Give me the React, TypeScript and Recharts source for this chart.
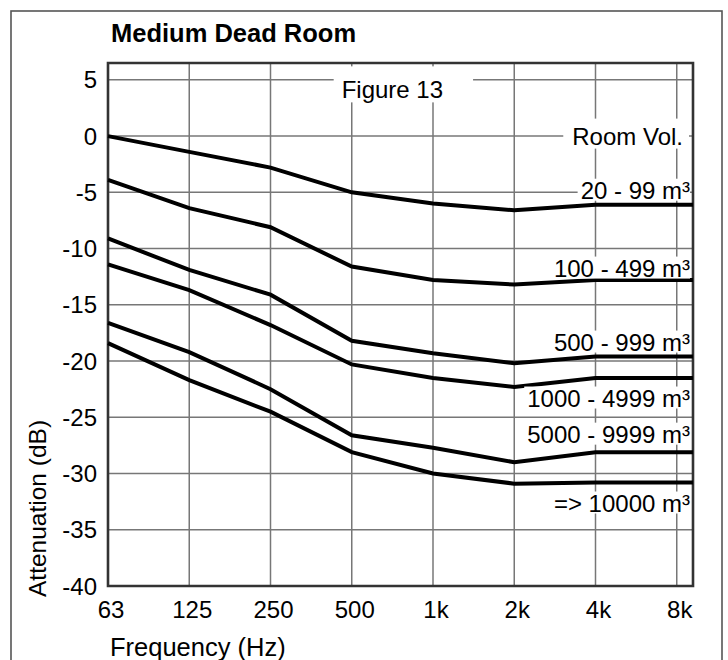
import React, { useLayoutEffect, useRef, useState } from 'react';
import { LineChart, Line, XAxis, YAxis, CartesianGrid, ReferenceDot, ReferenceArea, Label } from 'recharts';

// octave band centres along the bottom
const FREQ_LABELS = ['63', '125', '250', '500', '1k', '2k', '4k', '8k'];

// attenuation in dB per octave band, one array per room volume class
const VOL_20_99 = [0, -1.4, -2.8, -5.0, -6.0, -6.6, -6.1, -6.1];
const VOL_100_499 = [-3.9, -6.4, -8.1, -11.6, -12.8, -13.2, -12.8, -12.8];
const VOL_500_999 = [-9.1, -11.9, -14.1, -18.2, -19.3, -20.2, -19.6, -19.6];
const VOL_1000_4999 = [-11.4, -13.7, -16.8, -20.3, -21.5, -22.3, -21.5, -21.5];
const VOL_5000_9999 = [-16.6, -19.2, -22.5, -26.6, -27.7, -29.0, -28.1, -28.1];
const VOL_10000_UP = [-18.4, -21.7, -24.5, -28.1, -30.0, -30.9, -30.8, -30.8];

const SERIES = [VOL_20_99, VOL_100_499, VOL_500_999, VOL_1000_4999, VOL_5000_9999, VOL_10000_UP];
const SERIES_NAMES = ['20 - 99 m³', '100 - 499 m³', '500 - 999 m³', '1000 - 4999 m³', '5000 - 9999 m³', '=> 10000 m³'];

const DB_TICKS = [5, 0, -5, -10, -15, -20, -25, -30, -35, -40];
const DB_MIN = -40;
const DB_MAX = 6.5;

// the frame runs a fifth of an octave past 8k and the curves carry on flat to it
const X_END = 7.2;

const rows: Record<string, number>[] = FREQ_LABELS.map((_, i) => {
    const row: Record<string, number> = { x: i };
    SERIES.forEach((s, k) => { row['s' + k] = s[i]; });
    return row;
});
rows.push({ ...rows[rows.length - 1], x: X_END });

const FONT = '"Liberation Sans", Arial, Helvetica, sans-serif';

// vertical nudge (px) of each volume tag from the end of its curve
const TAG_DY = [-6, -3.5, -6, 28.6, -9.5, 29];

interface Pad { l: number; r: number; t: number; b: number; }

// text on a white patch that knocks out the grid behind it
const Tag: React.FC<{ x: number; y: number; text: string; anchor: 'start' | 'middle' | 'end'; pad: Pad }> = ({ x, y, text, anchor, pad }) => {
    const ref = useRef<SVGTextElement>(null);
    const [box, setBox] = useState<{ x: number; y: number; w: number; h: number } | null>(null);
    useLayoutEffect(() => {
        if (ref.current) {
            const b = ref.current.getBBox();
            setBox({ x: b.x, y: b.y, w: b.width, h: b.height });
        }
    }, [x, y, text]);
    return (
        <g>
            {box && (
                <rect x={box.x - pad.l} y={box.y - pad.t} width={box.w + pad.l + pad.r} height={box.h + pad.t + pad.b} fill="#fff" />
            )}
            <text ref={ref} x={x} y={y} textAnchor={anchor} fontFamily={FONT} fontSize={24} fill="#000">{text}</text>
        </g>
    );
};

const FreqTick = (props: any) => (
    <text x={props.x + 3} y={props.y + 32} textAnchor="middle" fontFamily={FONT} fontSize={24} fill="#000">
        {FREQ_LABELS[props.payload.value]}
    </text>
);

const DbTick = (props: any) => (
    <text x={props.x} y={props.y + 8.5} textAnchor="end" fontFamily={FONT} fontSize={24} fill="#000">
        {props.payload.value}
    </text>
);

const App: React.FC = () => {
    return (
        <div style={{ position: 'absolute', left: 0, top: 0, width: 728, height: 660, background: '#fff' }}>
            <LineChart width={728} height={660} data={rows} margin={{ top: 63, right: 35, bottom: 0, left: 0 }}>
                <CartesianGrid stroke="#777" strokeWidth={1.5} />
                <XAxis
                    dataKey="x"
                    type="number"
                    domain={[0, X_END]}
                    ticks={FREQ_LABELS.map((_, i) => i)}
                    interval={0}
                    height={74}
                    axisLine={false}
                    tickLine={false}
                    tickSize={0}
                    tickMargin={0}
                    tick={<FreqTick />}
                >
                    <Label
                        content={(p: any) => (
                            <text x={p.viewBox.x + 2} y={p.viewBox.y + 70} fontFamily={FONT} fontSize={25.5} fill="#000">
                                Frequency (Hz)
                            </text>
                        )}
                    />
                </XAxis>
                <YAxis
                    type="number"
                    domain={[DB_MIN, DB_MAX]}
                    ticks={DB_TICKS}
                    interval={0}
                    allowDataOverflow
                    width={108}
                    axisLine={false}
                    tickLine={false}
                    tickSize={0}
                    tickMargin={11}
                    tick={<DbTick />}
                >
                    <Label
                        content={() => (
                            <text x={46} y={597} transform="rotate(-90 46 597)" fontFamily={FONT} fontSize={24.5} fill="#000">
                                Attenuation (dB)
                            </text>
                        )}
                    />
                </YAxis>

                {/* knocked-out captions inside the plot */}
                <ReferenceDot
                    x={3.5}
                    y={5}
                    ifOverflow="visible"
                    shape={(p: any) => <Tag x={p.cx} y={p.cy + 18.5} text="Figure 13" anchor="middle" pad={{ l: 8, r: 30, t: 10, b: -1 }} />}
                />
                <ReferenceDot
                    x={X_END}
                    y={0}
                    ifOverflow="visible"
                    shape={(p: any) => <Tag x={p.cx - 10} y={p.cy + 8.5} text="Room Vol." anchor="end" pad={{ l: 9, r: 6, t: 4, b: -1 }} />}
                />
                {SERIES.map((s, k) => (
                    <ReferenceDot
                        key={'tag' + k}
                        x={X_END}
                        y={s[s.length - 1]}
                        ifOverflow="visible"
                        shape={(p: any) => (
                            <Tag x={p.cx - 3} y={p.cy + TAG_DY[k]} text={SERIES_NAMES[k]} anchor="end" pad={{ l: 3, r: 0, t: -2, b: -3 }} />
                        )}
                    />
                ))}

                {SERIES.map((_, k) => (
                    <Line
                        key={'s' + k}
                        dataKey={'s' + k}
                        type="linear"
                        stroke="#000"
                        strokeWidth={4}
                        dot={false}
                        activeDot={false}
                        isAnimationActive={false}
                    />
                ))}

                {/* plot frame */}
                <ReferenceArea x1={0} x2={X_END} y1={DB_MIN} y2={DB_MAX} fill="none" stroke="#333" strokeWidth={2.6} ifOverflow="visible" />

                <rect x={11} y={11} width={711} height={700} fill="none" stroke="#555" strokeWidth={1.6} />
                <text x={111} y={42} fontFamily={FONT} fontSize={25.5} fontWeight="bold" fill="#000">
                    Medium Dead Room
                </text>
            </LineChart>
        </div>
    );
};

export default App;
